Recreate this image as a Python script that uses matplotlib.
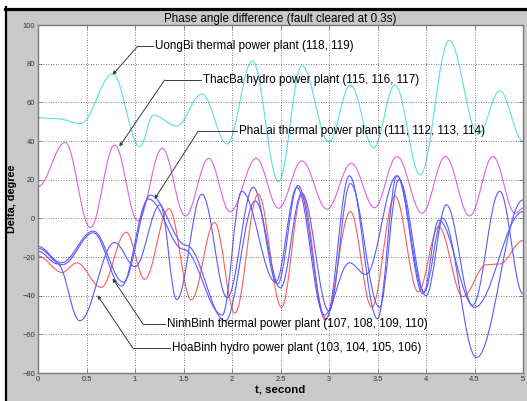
# Phase angle difference plot (MATLAB style figure recreation)
import matplotlib
matplotlib.use('Agg')
import matplotlib.pyplot as plt
from matplotlib.path import Path
from matplotlib.patches import PathPatch, Rectangle
from matplotlib.lines import Line2D

plt.rcParams['font.family'] = ['Liberation Sans', 'DejaVu Sans']

# Extrema (time, degree), per plant group
uongbi_t = [0, 0.2, 0.44, 0.77, 1.05, 1.19, 1.43, 1.69, 1.95, 2.21, 2.48, 2.72,
            3.0, 3.22, 3.46, 3.68, 3.94, 4.24, 4.54, 4.76, 5.0]
uongbi_v = [52, 51.5, 49, 74.7, 37, 53.4, 47.8, 64.3, 38.5, 81.4, 19, 79,
            39.5, 69, 36.5, 69, 22.6, 92, 43.5, 66, 40]

thacba_t = [0, 0.28, 0.54, 0.79, 1.03, 1.28, 1.52, 1.76, 1.98, 2.25, 2.48, 2.72,
            2.98, 3.23, 3.47, 3.70, 3.96, 4.2, 4.45, 4.69, 4.92, 5.0]
thacba_v = [16.4, 39.3, -4.8, 37.9, -1.2, 36.2, 1.2, 31, 3.4, 31, 5.2, 29.7,
            4.7, 28.5, 5.5, 32, 2.6, 32, 1.2, 32, 2.6, 5.2]

ninhbinh_t = [0, 0.25, 0.4, 0.65, 0.91, 1.1, 1.35, 1.58, 1.82, 2.03, 2.27, 2.51,
              2.72, 2.96, 3.22, 3.44, 3.68, 3.92, 4.13, 4.38, 4.62, 4.76, 5.0]
ninhbinh_v = [-19.5, -28, -23, -35.7, -7.2, -31.5, 5, -42.2, -2.2, -49, 12.5, -46,
              12, -52.5, 3.5, -46, 11.5, -38, -4.3, -40.5, -24, -23.6, -11.5]

hoabinh_t = [0, 0.2, 0.43, 0.79, 1.0, 1.26, 1.43, 1.69, 1.95, 2.22, 2.47, 2.68,
             2.97, 3.21, 3.5, 3.7, 3.98, 4.17, 4.52, 5.0]
hoabinh_v = [-17, -23.5, -53, -12.5, -25, 7, -42, 12.5, -41, 16, -34, 17,
             -52, 22, -52, 22, -38, 0, -72, 9.5]

phalai1_t = [0, 0.24, 0.57, 0.88, 1.16, 1.53, 1.93, 2.24, 2.5, 2.72, 3.0, 3.22,
             3.52, 3.72, 4.0, 4.21, 4.48, 4.76, 5.0]
phalai1_v = [-14.5, -23, -6.6, -33, 12, -14, -53, 9, -36, 13, -48, 18,
             -46, 20, -40, 7, -45, 14, -39]

phalai2_t = [0, 0.25, 0.57, 0.86, 1.14, 1.5, 1.9, 2.1, 2.45, 2.67, 2.95, 3.21,
             3.38, 3.7, 3.97, 4.13, 4.5, 5.0]
phalai2_v = [-15.5, -24, -7.5, -35, 10, -16, -50, 14, -33, 16, -50, -23,
             -29, 22, -39, -1, -46, 3.5]

x_ticks = [0, 0.5, 1, 1.5, 2, 2.5, 3, 3.5, 4, 4.5, 5]
x_tick_labels = ['0', '0.5', '1', '1.5', '2', '2.5', '3', '3.5', '4', '4.5', '5']
y_ticks = [-80, -60, -40, -20, 0, 20, 40, 60, 80, 100]


def wave_patch(t, v, color, k=0.364):
    # smooth path through the extrema, flat tangents at every point
    verts = [(t[0], v[0])]
    codes = [Path.MOVETO]
    for i in range(1, len(t)):
        dt = t[i] - t[i - 1]
        verts += [(t[i - 1] + k * dt, v[i - 1]), (t[i] - k * dt, v[i]), (t[i], v[i])]
        codes += [Path.CURVE4] * 3
    return PathPatch(Path(verts, codes), fill=False, edgecolor=color,
                     linewidth=0.8, capstyle='round', joinstyle='round')


fig = plt.figure(figsize=(5.27, 4.01), dpi=100, facecolor='white')

# Gray MATLAB figure background with the black window edge
fig.patches.append(Rectangle((7 / 527, 0), 1, 1 - 10 / 401, transform=fig.transFigure,
                             facecolor='#c9c9c9', edgecolor='none', zorder=-10))
fig.lines.append(Line2D([5 / 527, 1], [1 - 8.5 / 401] * 2, transform=fig.transFigure,
                        color='black', linewidth=2.3))
fig.lines.append(Line2D([6 / 527] * 2, [0, 1 - 7 / 401], transform=fig.transFigure,
                        color='black', linewidth=1.6))

ax = fig.add_axes([38 / 527, 1 - 373 / 401, 485 / 527, 348 / 401])
ax.set_facecolor('white')

ax.add_patch(wave_patch(uongbi_t, uongbi_v, '#5ae0e0'))
ax.add_patch(wave_patch(thacba_t, thacba_v, '#e060e0'))
ax.add_patch(wave_patch(ninhbinh_t, ninhbinh_v, '#ff5c5c'))
for t, v in [(hoabinh_t, hoabinh_v), (phalai1_t, phalai1_v), (phalai2_t, phalai2_v)]:
    ax.add_patch(wave_patch(t, v, '#5a5aff'))

ax.set_xlim(0, 5)
ax.set_ylim(-80, 100)
ax.set_xticks(x_ticks)
ax.set_xticklabels(x_tick_labels)
ax.set_yticks(y_ticks)
ax.tick_params(direction='in', length=3, width=0.6, color='#707070',
               labelsize=5.4, labelcolor='#333333', pad=2, top=True, right=True)
ax.grid(True, color='#555555', linestyle=(0, (1, 2)), linewidth=0.6)
for s in ax.spines.values():
    s.set_color('#7a7a7a')
    s.set_linewidth(1.0)

ax.set_title('Phase angle difference (fault cleared at 0.3s)', fontsize=8.4, pad=2.5)
ax.set_xlabel('t, second', fontsize=8.2, fontweight='bold', labelpad=1.5)
ax.set_ylabel('Delta, degree', fontsize=7.8, fontweight='bold', labelpad=4)

# Text arrows: (label, arrow tip, elbow, text start)
notes = [('UongBi thermal power plant (118, 119)', (0.769, 74.3), (1.029, 89.1), 1.21),
         ('ThacBa hydro power plant (115, 116, 117)', (0.838, 37.1), (1.306, 71.6), 1.70),
         ('PhaLai thermal power plant (111, 112, 113, 114)', (1.202, 10.0), (1.653, 45.2), 2.07),
         ('NinhBinh thermal power plant (107, 108, 109, 110)', (0.769, -31.1), (1.081, -54.6), 1.325),
         ('HoaBinh hydro power plant (103, 104, 105, 106)', (0.613, -39.8), (0.977, -67.1), 1.385)]
for label, tip, elbow, tx in notes:
    ax.annotate('', xy=tip, xytext=elbow,
                arrowprops=dict(arrowstyle='-|>', color='#3a3a3a', lw=0.7,
                                mutation_scale=5, shrinkA=0, shrinkB=0))
    ax.plot([elbow[0], tx - 0.02], [elbow[1], elbow[1]], color='#3a3a3a', lw=0.7)
    ax.text(tx, elbow[1], label, fontsize=8.4, va='center', ha='left', color='black')

fig.savefig('out.png', dpi=100, facecolor=fig.get_facecolor())
